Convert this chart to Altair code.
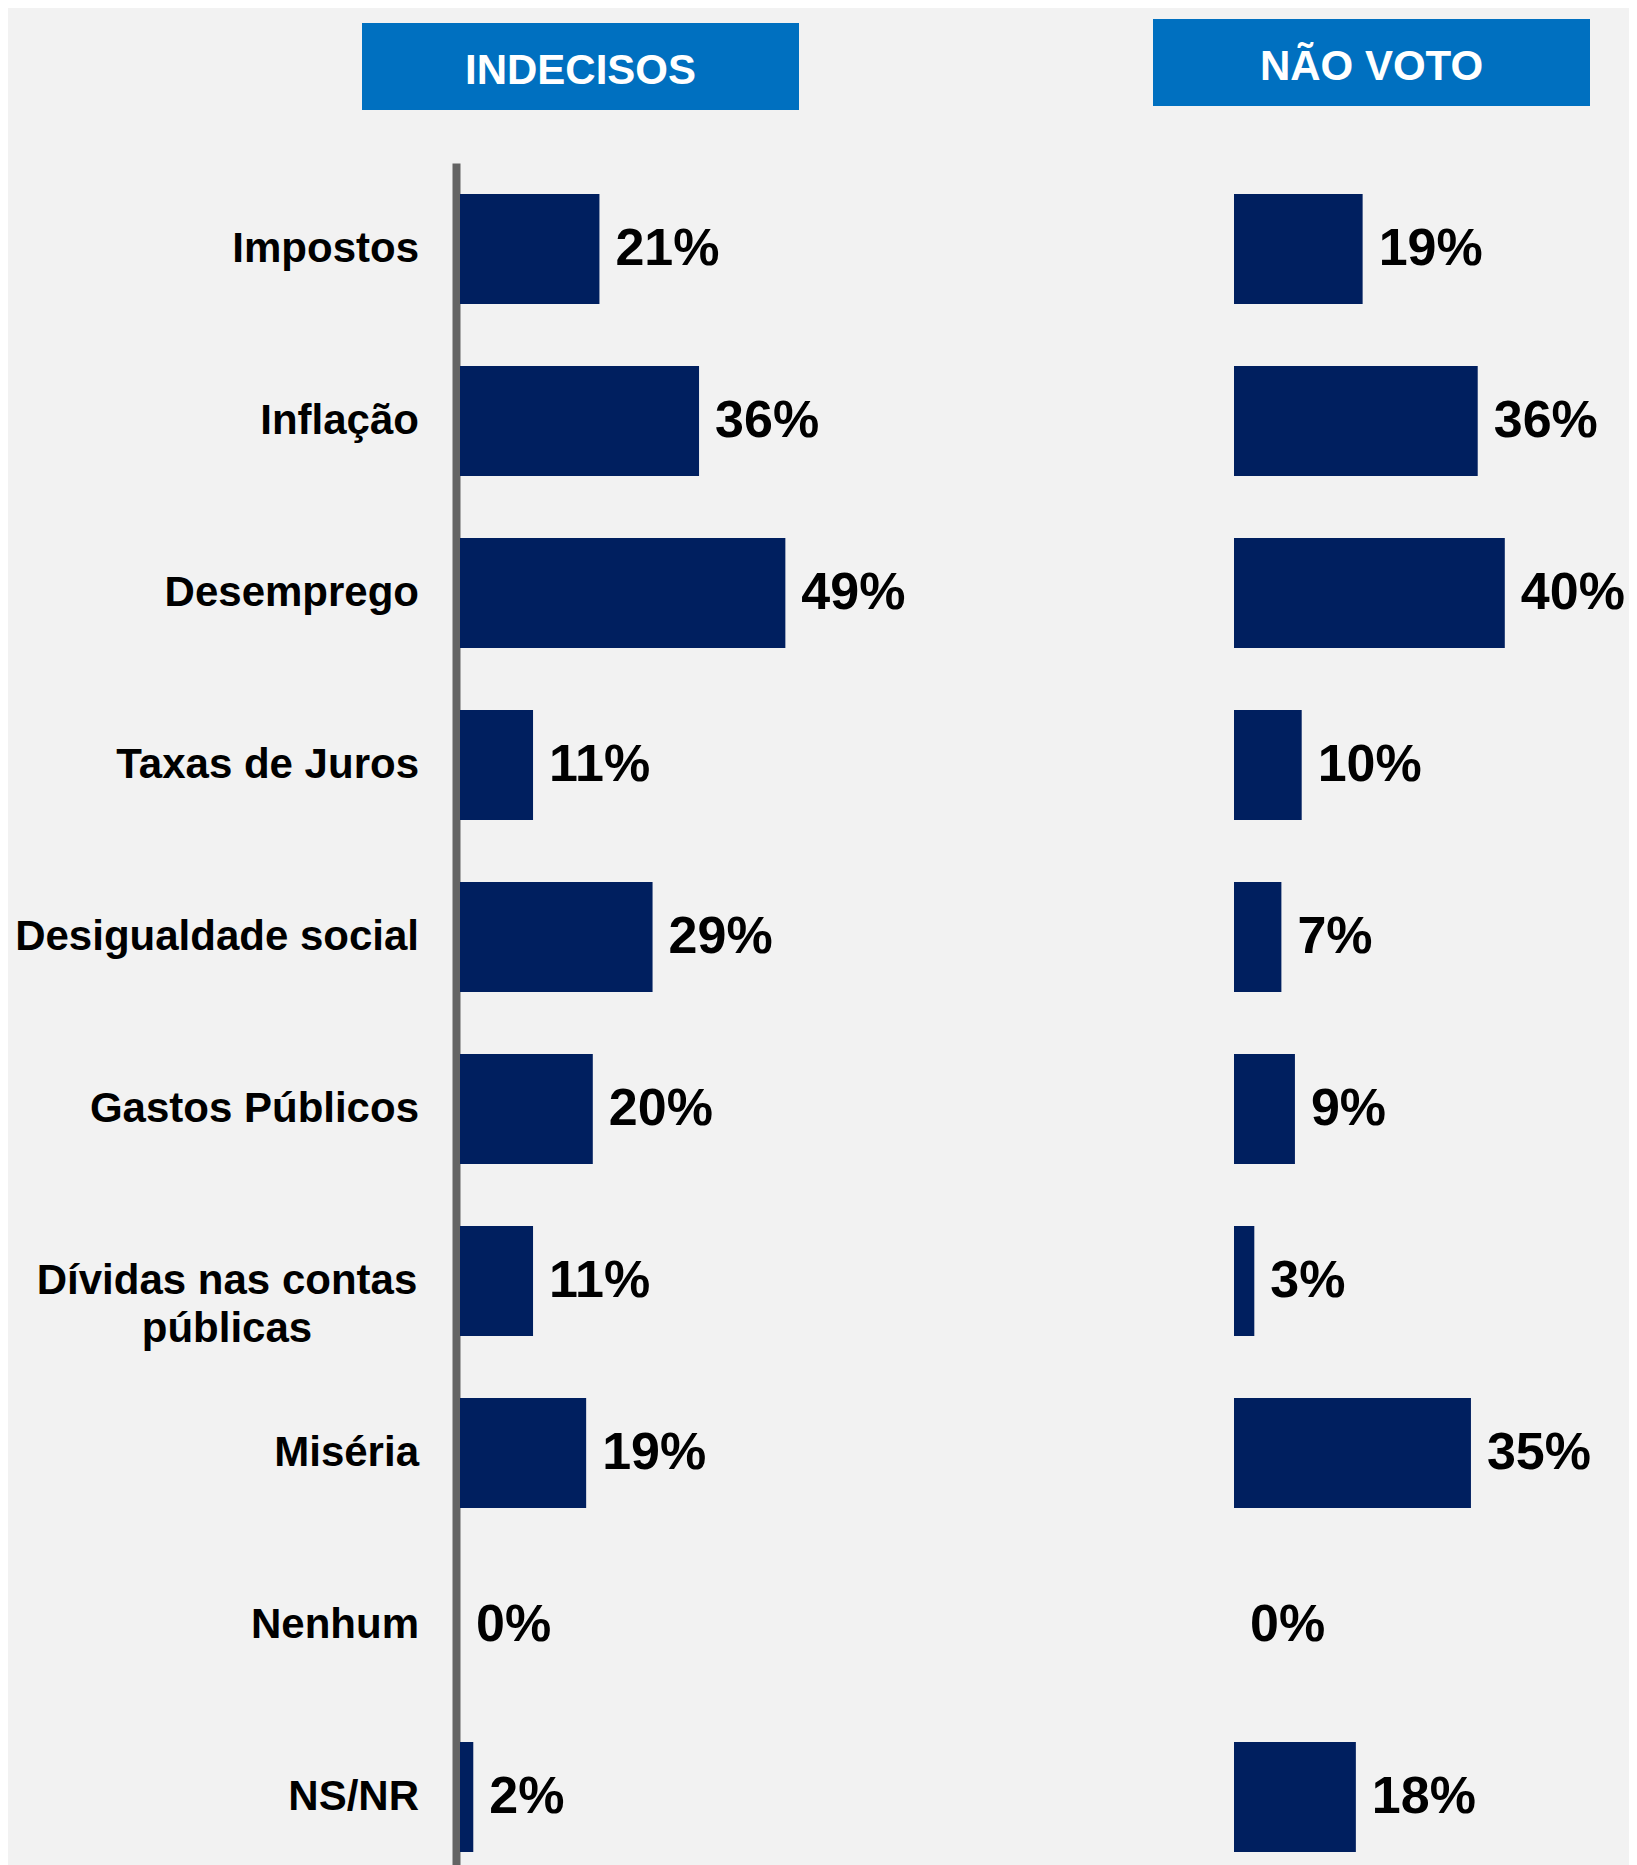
import altair as alt
import pandas as pd

categories = ["Impostos", "Inflação", "Desemprego", "Taxas de Juros",
              "Desigualdade social", "Gastos Públicos",
              "Dívidas nas contas\npúblicas", "Miséria", "Nenhum", "NS/NR"]
indecisos = [21, 36, 49, 11, 29, 20, 11, 19, 0, 2]
nao_voto = [19, 36, 40, 10, 7, 9, 3, 35, 0, 18]
panel_titles = ["INDECISOS", "NÃO VOTO"]
multi_line = ["Dívidas nas contas\npúblicas"]

FONT = "Liberation Sans, Arial, sans-serif"
BAR = "#001f5f"
HEAD = "#0070c0"
AXIS = "#646464"

H = 1720
LW, RW = 754, 395
LMAX, RMAX = LW / 6.64, RW / 6.77

yscale = alt.Scale(paddingInner=0.36, paddingOuter=0.18)


def frame(values):
    d = pd.DataFrame({"cat": categories, "v": values})
    d["label"] = d["v"].astype(str) + "%"
    return d


def panel(values, title, width, xmax, left, rect_x, rect_y, txt_xy):
    d = frame(values)
    base = alt.Chart(d)
    if left:
        yaxis = alt.Axis(labels=False, ticks=False, domain=True, domainColor=AXIS,
                         domainWidth=8, offset=4, title=None, grid=False)
    else:
        yaxis = None
    y = alt.Y("cat:N", sort=categories, scale=yscale, axis=yaxis)
    x = alt.X("v:Q", scale=alt.Scale(domain=[0, xmax]), axis=None)
    bars = base.mark_bar(color=BAR).encode(x=x, y=y)
    vals = base.mark_text(align="left", baseline="middle", dx=16, fontSize=52,
                          fontWeight="bold", font=FONT, color="black").encode(
        x=x, y=y, text="label:N")
    hd = pd.DataFrame({"t": [title]})
    rect = alt.Chart(hd).mark_rect(color=HEAD).encode(
        x=alt.value(rect_x[0]), x2=alt.value(rect_x[1]),
        y=alt.value(rect_y[0]), y2=alt.value(rect_y[1]))
    htxt = alt.Chart(hd).mark_text(align="center", baseline="middle", fontSize=42,
                                   fontWeight="bold", font=FONT, color="white").encode(
        x=alt.value(txt_xy[0]), y=alt.value(txt_xy[1]), text="t:N")
    layers = [bars, vals, rect, htxt]
    if left:
        single = base.transform_filter(
            alt.FieldOneOfPredicate(field="cat", oneOf=[c for c in categories if c not in multi_line])
        ).mark_text(align="right", baseline="middle", fontSize=42, fontWeight="bold",
                    font=FONT, color="black").encode(
            x=alt.value(-41), y=y, text="cat:N")
        multi = base.transform_filter(
            alt.FieldOneOfPredicate(field="cat", oneOf=multi_line)
        ).mark_text(align="center", baseline="middle", fontSize=42, fontWeight="bold",
                    font=FONT, color="black", lineBreak="\n", lineHeight=48).encode(
            x=alt.value(-233), y=y, text="cat:N")
        layers += [single, multi]
    return alt.layer(*layers).properties(width=width, height=H)


left = panel(indecisos, panel_titles[0], LW, LMAX, True,
             (-98, 339), (-140, -53), (120.5, -92.5))
right = panel(nao_voto, panel_titles[1], RW, RMAX, False,
              (-81, 356), (-144, -57), (137.5, -96))

chart = alt.hconcat(left, right, spacing=20, bounds="flush").properties(
    padding={"left": 7, "top": 11, "right": 0, "bottom": 0},
    background="#f2f2f2",
).configure_view(stroke=None)

chart.save("out.html", embed_options={"renderer": "svg", "actions": False})
